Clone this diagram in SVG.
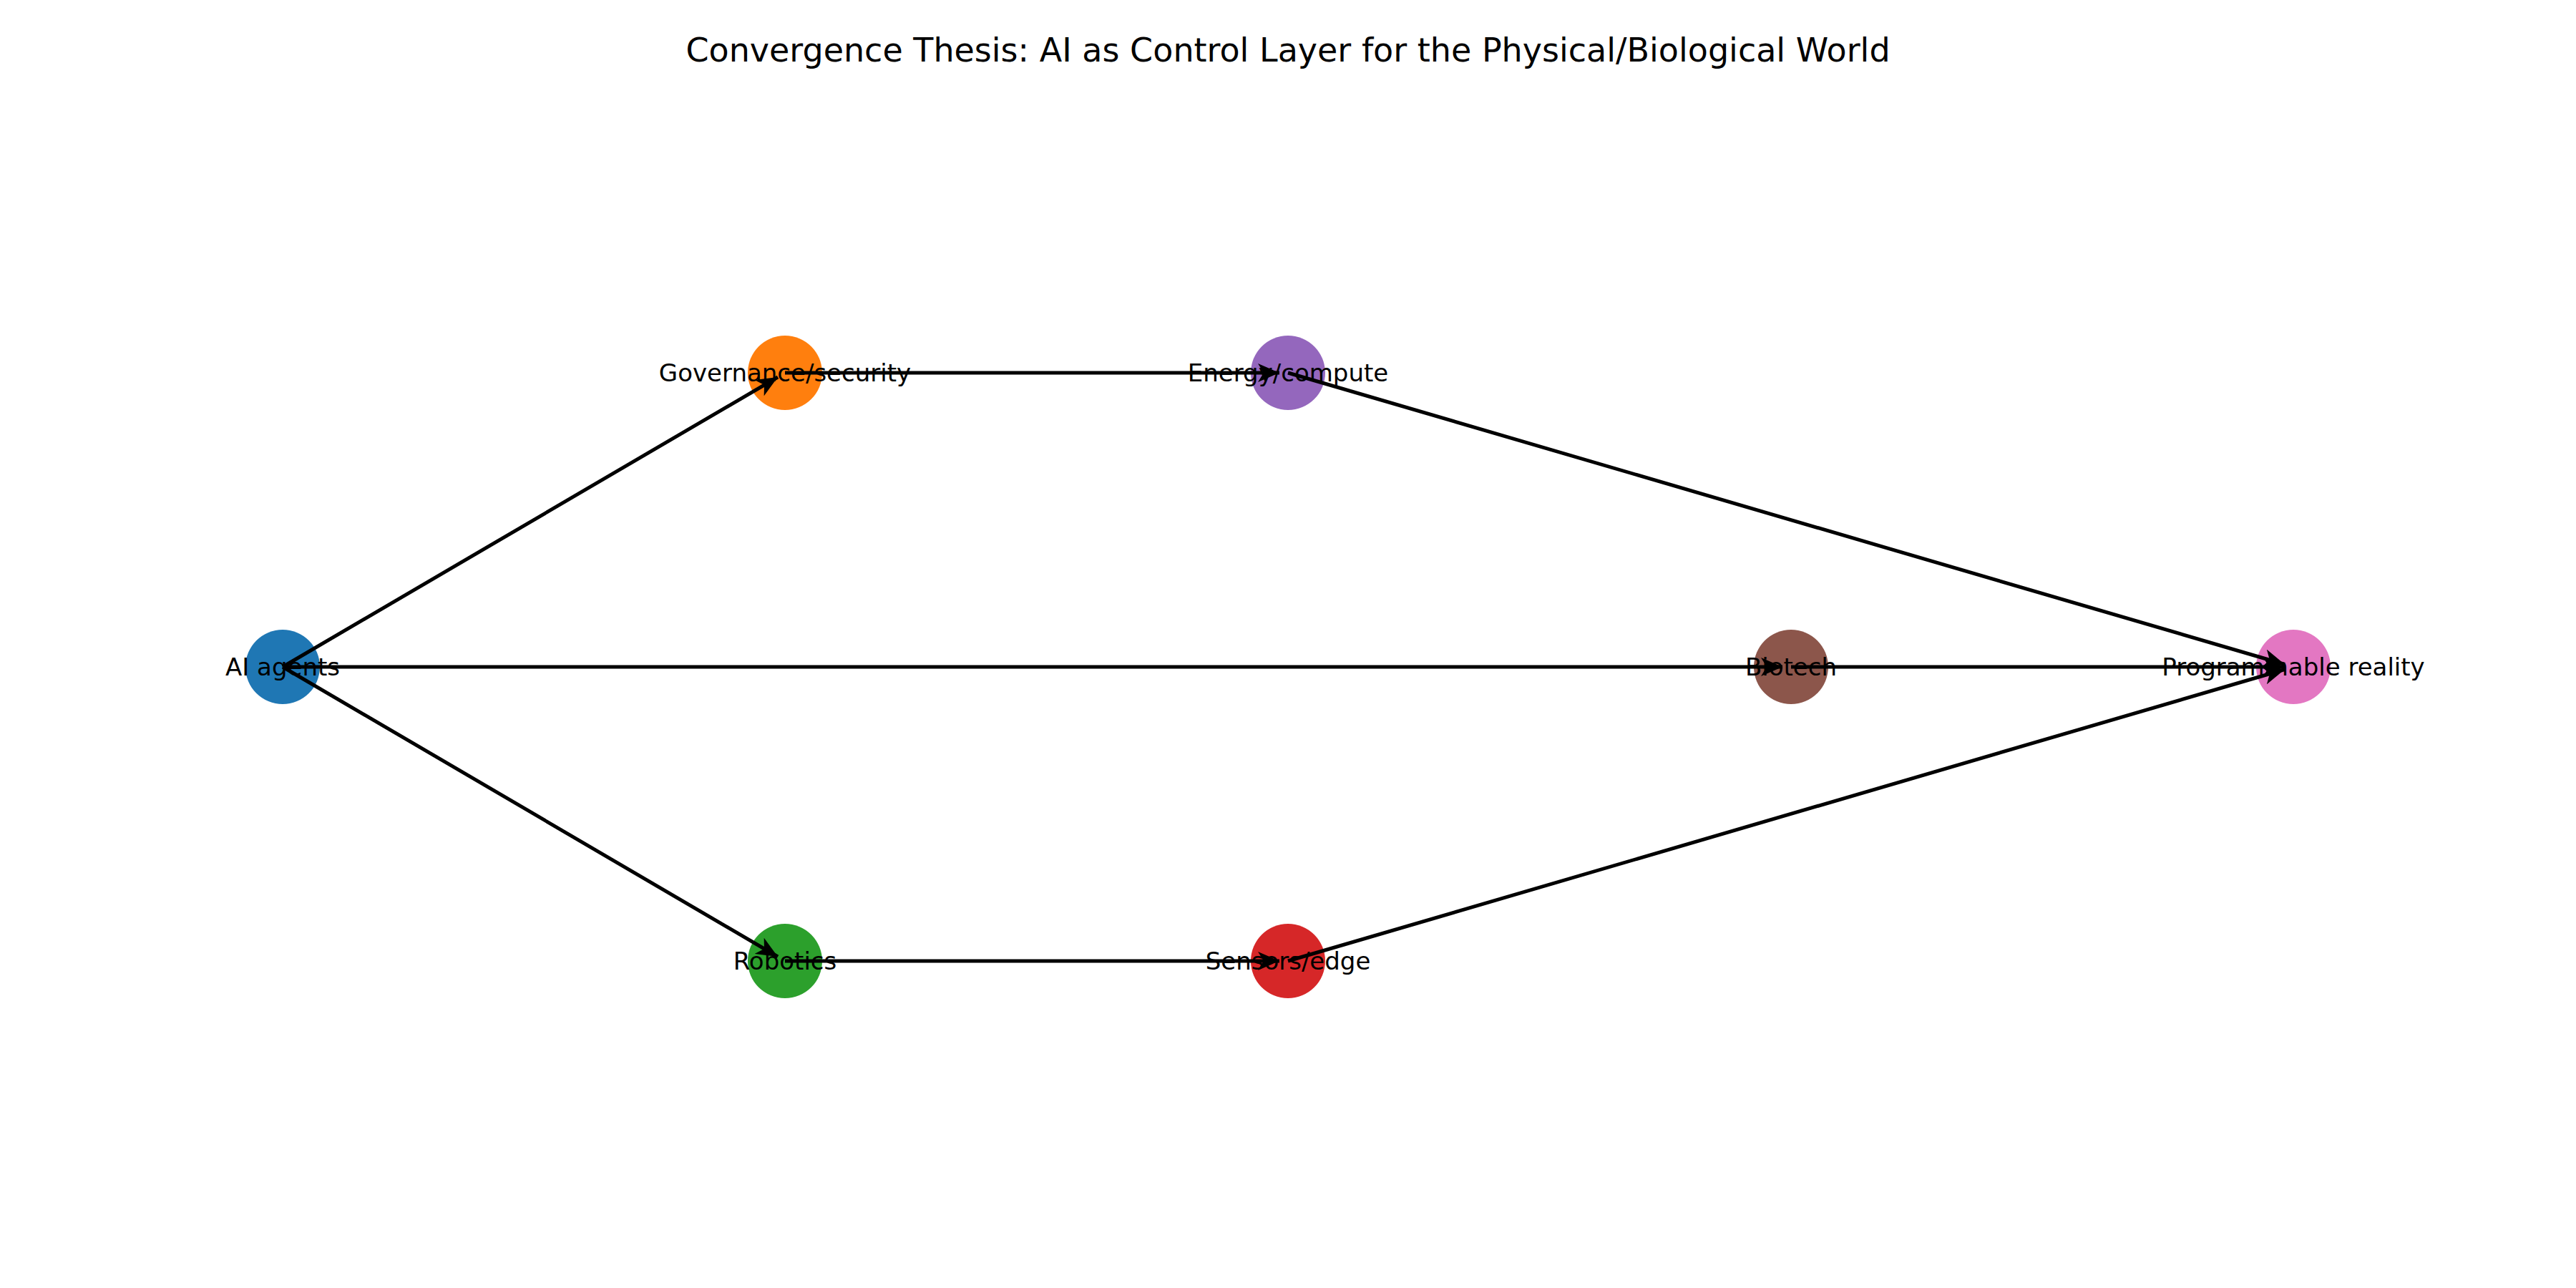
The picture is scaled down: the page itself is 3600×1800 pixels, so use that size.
<svg xmlns="http://www.w3.org/2000/svg" width="3600" height="1800" viewBox="0 0 3600 1800">
<style>
text{font-family:"DejaVu Sans","Liberation Sans",sans-serif;fill:#000}
.lbl{font-size:34px;text-anchor:middle;dominant-baseline:central}
.e{stroke:#000;stroke-width:5;fill:none;marker-end:url(#ah)}
</style>
<defs><marker id="ah" markerUnits="userSpaceOnUse" markerWidth="34" markerHeight="26" refX="30" refY="13" orient="auto"><path d="M0,0 L30,13 L0,26 L8,13 Z" fill="#000"/></marker></defs>
<rect width="3600" height="1800" fill="#fff"/>
<text x="1800" y="70" font-size="46" text-anchor="middle" dominant-baseline="central">Convergence Thesis: AI as Control Layer for the Physical/Biological World</text>
<g id="nodes">
<g id="n-ai"><circle cx="395" cy="932" r="52" fill="#1f77b4"/></g>
<g id="n-gov"><circle cx="1097" cy="521" r="52" fill="#ff7f0e"/></g>
<g id="n-energy"><circle cx="1800" cy="521" r="52" fill="#9467bd"/></g>
<g id="n-rob"><circle cx="1097" cy="1343" r="52" fill="#2ca02c"/></g>
<g id="n-sens"><circle cx="1800" cy="1343" r="52" fill="#d62728"/></g>
<g id="n-bio"><circle cx="2503" cy="932" r="52" fill="#8c564b"/></g>
<g id="n-prog"><circle cx="3205" cy="932" r="52" fill="#e377c2"/></g>
</g>
<g id="edges">
<line class="e" x1="395" y1="932" x2="1087" y2="527"/>
<line class="e" x1="395" y1="932" x2="1087" y2="1337"/>
<line class="e" x1="395" y1="932" x2="2491" y2="932"/>
<line class="e" x1="1097" y1="521" x2="1788" y2="521"/>
<line class="e" x1="1097" y1="1343" x2="1788" y2="1343"/>
<line class="e" x1="1800" y1="521" x2="3193" y2="928.5"/>
<line class="e" x1="2503" y1="932" x2="3193" y2="932"/>
<line class="e" x1="1800" y1="1343" x2="3193" y2="935.5"/>
</g>
<g id="labels">
<text class="lbl" x="395" y="932">AI agents</text>
<text class="lbl" x="1097" y="521">Governance/security</text>
<text class="lbl" x="1800" y="521">Energy/compute</text>
<text class="lbl" x="1097" y="1343">Robotics</text>
<text class="lbl" x="1800" y="1343">Sensors/edge</text>
<text class="lbl" x="2503" y="932">Biotech</text>
<text class="lbl" x="3205" y="932">Programmable reality</text>
</g>
</svg>
